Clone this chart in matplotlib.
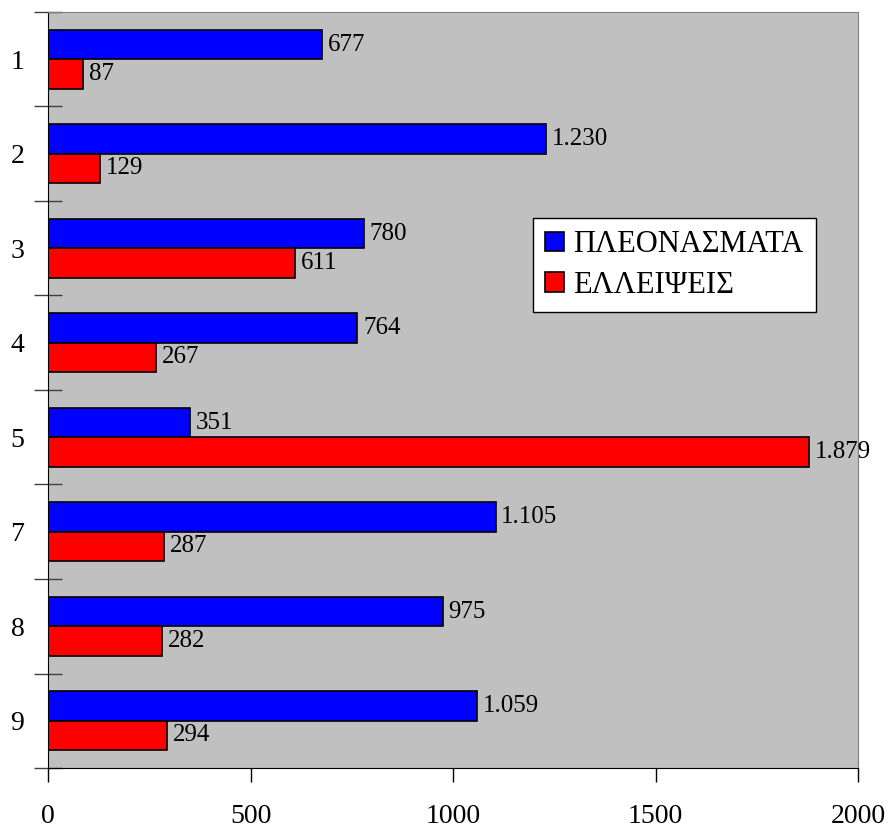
import matplotlib.pyplot as plt
import numpy as np

categories = ['1', '2', '3', '4', '5', '7', '8', '9']
pleonasmata = [677, 1230, 780, 764, 351, 1105, 975, 1059]
elleipseis = [87, 129, 611, 267, 1879, 287, 282, 294]

plt.rcParams['font.family'] = ['Liberation Serif', 'DejaVu Serif']

fig = plt.figure(figsize=(8.9, 8.3), dpi=100)
ax = fig.add_axes([48 / 890, 1 - 768 / 830, 810 / 890, 756 / 830])
ax.set_facecolor('#c0c0c0')

y = np.arange(len(categories))
h = 0.31
ax.barh(y - h / 2, pleonasmata, height=h, color='#0000ff', edgecolor='black',
        linewidth=1.2, label='ΠΛΕΟΝΑΣΜΑΤΑ')
ax.barh(y + h / 2, elleipseis, height=h, color='#ff0000', edgecolor='black',
        linewidth=1.2, label='ΕΛΛΕΙΨΕΙΣ')


def fmt(v):
    return f'{v:,}'.replace(',', '.')


for i in range(len(categories)):
    ax.text(pleonasmata[i] + 14, y[i] - h / 2, fmt(pleonasmata[i]),
            va='center', ha='left', fontsize=18)
    ax.text(elleipseis[i] + 14, y[i] + h / 2, fmt(elleipseis[i]),
            va='center', ha='left', fontsize=18)

ax.set_xlim(0, 2000)
ax.set_ylim(len(categories) - 0.5, -0.5)
ax.set_xticks([0, 500, 1000, 1500, 2000])
ax.tick_params(axis='x', direction='out', length=10, width=1, pad=16, labelsize=20)

ax.set_yticks(y)
ax.set_yticklabels(categories)
ax.set_yticks(np.arange(len(categories) + 1) - 0.5, minor=True)
ax.tick_params(axis='y', which='major', length=0, pad=17, labelsize=20)
ax.tick_params(axis='y', which='minor', direction='inout', length=20, width=1,
               color='#404040')

for s in ['top', 'right']:
    ax.spines[s].set_color('#808080')
for s in ['left', 'bottom']:
    ax.spines[s].set_color('black')

leg = ax.legend(loc='upper left', bbox_to_anchor=(0.599, 0.7275), fontsize=22,
                frameon=True, fancybox=False, edgecolor='black', framealpha=1,
                handlelength=0.62, handleheight=0.62, handletextpad=0.3,
                borderpad=0.4, labelspacing=0.38, borderaxespad=0)
leg.get_frame().set_linewidth(1)

fig.savefig('out.png', dpi=100)
